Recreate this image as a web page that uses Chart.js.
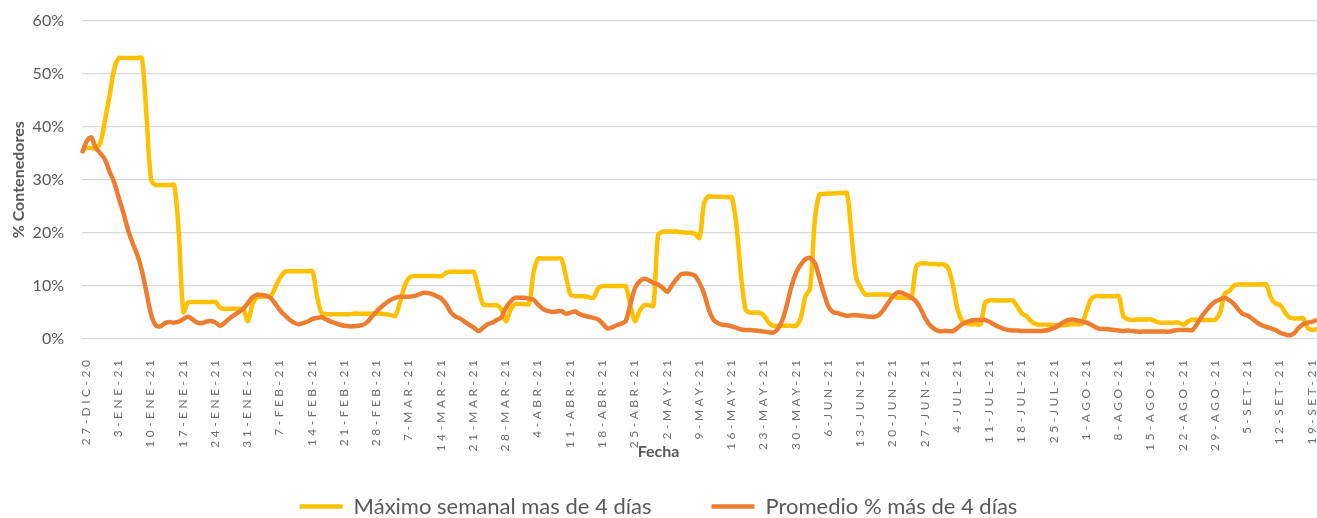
<!DOCTYPE html>
<html lang="es">
<head>
<meta charset="utf-8">
<title>Contenedores con más de 4 días</title>
<script src="https://cdn.jsdelivr.net/npm/chart.js@4"></script>
<style>
    html, body { margin: 0; padding: 0; background: #ffffff; }
    #wrap { width: 1317px; height: 518px; position: relative; }
</style>
</head>
<body>
<div id="wrap"><canvas id="chart"></canvas></div>
<script>
// Data (daily, from 27-DIC-20)
const maximoSemanal = [
    36, 36, 36, 36, 37, 41.3, 46, 51, 53, 53,
    53, 53, 53, 53, 42, 30, 29, 29, 29, 29,
    29, 20, 5, 6.8, 6.9, 6.9, 6.9, 6.9, 6.9, 6.9,
    5.8, 5.6, 5.6, 5.6, 5.6, 5.5, 3.3, 6.5, 7.8, 7.9,
    7.9, 8.0, 9.8, 11.5, 12.6, 12.7, 12.7, 12.7, 12.7, 12.7,
    12.7, 8.0, 4.8, 4.6, 4.6, 4.6, 4.6, 4.6, 4.6, 4.7,
    4.7, 4.7, 4.7, 4.7, 4.7, 4.7, 4.6, 4.4, 4.3, 6.8,
    9.9, 11.5, 11.8, 11.8, 11.8, 11.8, 11.8, 11.8, 11.8, 12.4,
    12.6, 12.6, 12.6, 12.6, 12.6, 12.6, 9.5, 6.5, 6.3, 6.3,
    6.3, 5.5, 3.2, 5.5, 6.5, 6.5, 6.5, 6.5, 12.5, 15.1,
    15.1, 15.1, 15.1, 15.1, 15.1, 11.8, 8.3, 8.0, 8.0, 8.0,
    7.8, 7.7, 9.5, 9.9, 9.9, 9.9, 9.9, 9.9, 9.9, 6.2,
    3.3, 5.2, 6.3, 6.3, 6.2, 19.5, 20.2, 20.2, 20.2, 20.2,
    20.1, 20.0, 20.0, 19.8, 19.0, 25.5, 26.9, 26.8, 26.8, 26.8,
    26.7, 26.7, 21.5, 12, 5.5, 4.9, 4.9, 4.9, 4.3, 3.0,
    2.4, 2.4, 2.4, 2.4, 2.4, 2.4, 4.0, 8.0, 9.5, 22,
    27.2, 27.3, 27.4, 27.4, 27.5, 27.5, 27.5, 19.5, 11.5, 9.6,
    8.3, 8.3, 8.3, 8.3, 8.3, 8.3, 8.0, 7.7, 7.7, 7.7,
    7.7, 13.5, 14.2, 14.2, 14.1, 14.1, 14.0, 14.0, 13.2, 10,
    5.5, 3.3, 2.8, 2.7, 2.7, 2.7, 6.8, 7.2, 7.2, 7.2,
    7.2, 7.2, 7.2, 6.0, 4.7, 4.2, 3.2, 2.7, 2.6, 2.6,
    2.6, 2.5, 2.5, 2.5, 2.6, 2.7, 2.7, 2.8, 5.2, 7.5,
    8.0, 8.0, 8.0, 8.0, 8.0, 8.0, 4.2, 3.6, 3.5, 3.6,
    3.6, 3.6, 3.6, 3.2, 3.0, 3.0, 3.0, 3.0, 3.0, 2.6,
    3.2, 3.6, 3.5, 3.5, 3.5, 3.5, 3.6, 5.0, 8.5, 9.0,
    10.0, 10.2, 10.2, 10.2, 10.2, 10.2, 10.2, 10.2, 7.7, 6.6,
    6.3, 5.0, 4.0, 3.8, 3.8, 3.8, 2.0, 1.6, 1.8
];

const promedio = [
    35, 37.2, 38, 36, 35, 33.8, 31.5, 29.5, 26.5, 23.7,
    20.5, 18, 15.8, 12.8, 8.7, 4.5, 2.5, 2.3, 2.9, 3.1,
    3.0, 3.2, 3.7, 4.1, 3.6, 3.0, 2.9, 3.2, 3.3, 3.0,
    2.4, 3.0, 3.8, 4.4, 5.0, 5.6, 6.7, 7.8, 8.3, 8.2,
    8.1, 7.6, 6.5, 5.3, 4.4, 3.6, 3.0, 2.7, 2.9, 3.2,
    3.7, 3.9, 4.0, 3.6, 3.2, 2.9, 2.6, 2.4, 2.3, 2.3,
    2.4, 2.6, 3.2, 4.2, 5.2, 6.0, 6.7, 7.3, 7.7, 7.9,
    7.9, 7.9, 8.0, 8.3, 8.6, 8.6, 8.4, 8.0, 7.5, 6.5,
    5.0, 4.2, 3.8, 3.2, 2.6, 2.1, 1.4, 2.0, 2.7, 3.0,
    3.5, 4.0, 5.8, 7.0, 7.7, 7.7, 7.7, 7.5, 7.3, 6.4,
    5.6, 5.2, 5.0, 5.1, 5.2, 4.7, 4.9, 5.1, 4.6, 4.3,
    4.1, 3.9, 3.6, 2.8, 1.9, 2.1, 2.5, 2.8, 3.3, 6.5,
    9.5, 10.8, 11.3, 11.0, 10.5, 10.2, 9.6, 8.8, 10.0, 11.2,
    12.1, 12.3, 12.2, 11.9, 10.5, 8.5, 5.5, 3.6, 2.9, 2.6,
    2.5, 2.3, 2.0, 1.7, 1.6, 1.6, 1.5, 1.4, 1.3, 1.2,
    1.1, 1.8, 3.5, 6.5, 10.0, 12.5, 14.0, 15.0, 15.2, 14.3,
    11.5, 8.5, 6.0, 5.0, 4.8, 4.5, 4.3, 4.4, 4.4, 4.3,
    4.2, 4.1, 4.1, 4.5, 5.5, 6.8, 8.0, 8.7, 8.6, 8.2,
    7.7, 7.0, 5.6, 3.8, 2.5, 1.8, 1.4, 1.4, 1.4, 1.4,
    2.0, 2.7, 3.1, 3.4, 3.5, 3.5, 3.5, 3.1, 2.6, 2.2,
    1.8, 1.6, 1.5, 1.5, 1.4, 1.4, 1.4, 1.4, 1.4, 1.5,
    1.7, 2.0, 2.5, 3.1, 3.5, 3.6, 3.4, 3.2, 3.0, 2.6,
    2.1, 1.8, 1.8, 1.7, 1.6, 1.5, 1.4, 1.5, 1.4, 1.3,
    1.3, 1.3, 1.3, 1.3, 1.3, 1.3, 1.3, 1.5, 1.6, 1.6,
    1.6, 1.6, 2.8, 4.2, 5.3, 6.3, 7.0, 7.4, 7.7, 7.2,
    6.5, 5.4, 4.6, 4.3, 3.7, 3.0, 2.5, 2.2, 1.9, 1.6,
    1.1, 0.8, 0.6, 1.0, 2.0, 2.7, 3.0, 3.2, 3.5
];

const meses = ['ENE', 'FEB', 'MAR', 'ABR', 'MAY', 'JUN', 'JUL', 'AGO', 'SET', 'OCT', 'NOV', 'DIC'];
const yTicks = [0, 10, 20, 30, 40, 50, 60];

// Categories: one per day
const fechas = maximoSemanal.map((_, i) => {
    const d = new Date(2020, 11, 27 + i);
    return d.getDate() + '-' + meses[d.getMonth()] + '-' + String(d.getFullYear()).slice(2);
});

const GRIS = '#595959';

// Excel-like spaced x labels and title centred on the whole chart
const excelAxisPlugin = {
    id: 'excelAxis',
    beforeDraw(chart) {
        const xs = chart.scales.x;
        if (xs._patched) return;
        xs._patched = true;
        const drawLabels = xs.drawLabels;
        xs.drawLabels = function (area) {
            // labels run past the (short) scale box, so widen the clip
            const b = this.bottom;
            this.bottom = chart.height;
            this.ctx.save();
            this.ctx.letterSpacing = '3.5px';
            drawLabels.call(this, area);
            this.ctx.restore();
            this.bottom = b;
        };
        const drawTitle = xs.drawTitle;
        xs.drawTitle = function () {
            const l = this.left, r = this.right;
            this.left = 0;
            this.right = chart.width;
            drawTitle.call(this);
            this.left = l;
            this.right = r;
        };
    }
};

new Chart(document.getElementById('chart'), {
    type: 'line',
    data: {
        labels: fechas,
        datasets: [{
            label: 'Máximo semanal mas de 4 días',
            data: maximoSemanal,
            borderColor: '#FFC000',
            backgroundColor: '#FFC000',
            borderWidth: 4.5,
            pointRadius: 0,
            tension: 0.3,
            order: 2
        }, {
            label: 'Promedio % más de 4 días',
            data: promedio,
            borderColor: '#ED7D31',
            backgroundColor: '#ED7D31',
            borderWidth: 4.5,
            pointRadius: 0,
            tension: 0.3,
            order: 1
        }]
    },
    options: {
        responsive: true,
        maintainAspectRatio: false,
        animation: false,
        layout: { padding: { top: 21, right: 0, bottom: -9.5, left: 0 } },
        plugins: {
            tooltip: { enabled: false },
            legend: {
                position: 'bottom',
                labels: {
                    usePointStyle: true,
                    pointStyle: 'line',
                    pointStyleWidth: 43,
                    padding: 60,
                    color: GRIS,
                    font: { family: 'Lato', size: 22 },
                    sort: (a, b) => a.datasetIndex - b.datasetIndex
                }
            }
        },
        scales: {
            x: {
                grid: { display: false, drawTicks: false },
                border: { display: false },
                afterBuildTicks: (s) => { s.ticks = s.ticks.filter(t => t.value % 7 === 0); },
                afterFit: (s) => { s.height = 97; s.paddingLeft = 0; s.paddingRight = 0; },
                ticks: {
                    autoSkip: false,
                    minRotation: 90,
                    maxRotation: 90,
                    padding: 18,
                    labelOffset: 4,
                    color: '#6f6f6f',
                    font: { family: 'Lato', size: 12 }
                },
                title: {
                    display: true,
                    text: 'Fecha',
                    color: GRIS,
                    font: { family: 'Lato', size: 16, weight: 'bold' },
                    padding: { top: 0, bottom: -26 }
                }
            },
            y: {
                min: 0,
                max: 60,
                afterBuildTicks: (s) => { s.ticks = yTicks.map(v => ({ value: v })); },
                afterFit: (s) => { s.width = 82; s.paddingTop = 0; s.paddingBottom = 0; },
                grid: { color: '#d9d9d9', lineWidth: 1.3, drawTicks: false },
                border: { display: false },
                ticks: {
                    padding: 18,
                    color: GRIS,
                    font: { family: 'Lato', size: 16 },
                    callback: (v) => v + '%'
                },
                title: {
                    display: true,
                    text: '% Contenedores',
                    color: GRIS,
                    font: { family: 'Lato', size: 16, weight: 'bold' },
                    padding: { top: 9, bottom: 0 }
                }
            }
        }
    },
    plugins: [excelAxisPlugin]
});
</script>
</body>
</html>
